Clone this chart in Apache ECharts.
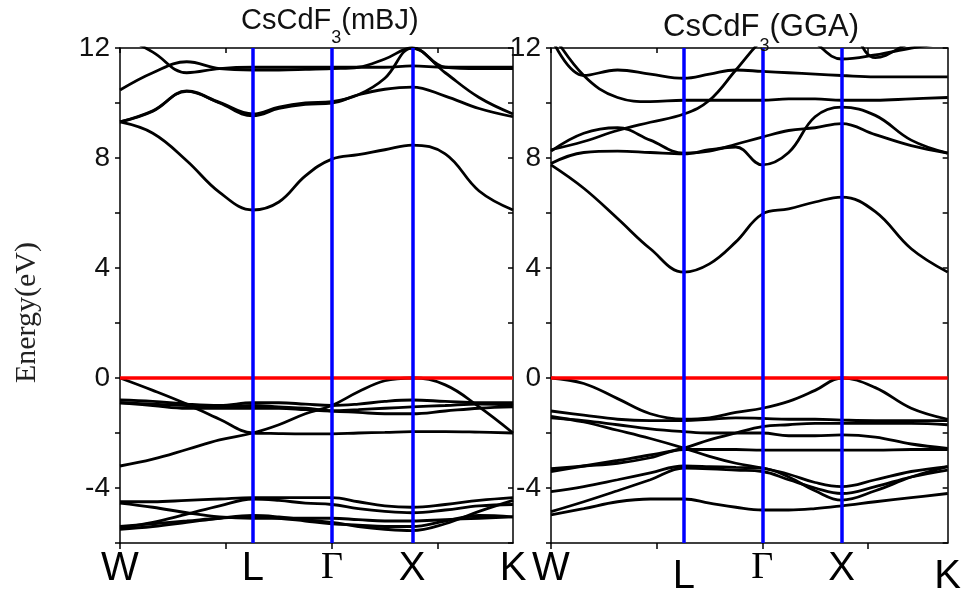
<!DOCTYPE html>
<html lang="en">
<head>
  <meta charset="UTF-8">
  <title>CsCdF3 band structure (mBJ / GGA)</title>
  <style>
    html, body { margin: 0; padding: 0; background: #fff; }
    #main { width: 964px; height: 601px; }
  </style>
  <script src="https://cdn.jsdelivr.net/npm/echarts@6/dist/echarts.min.js"></script>
</head>
<body>
  <div id="main"></div>
  <script>
    // high-symmetry points along the path
    const kLabels = ['W', 'L', 'Γ', 'X', 'K'];
    const kLeftHigh = [0, 1.254, 2.0, 2.757, 3.71];
    const kRightHigh = [0, 1.258, 2.0, 2.752, 3.755];

    // k sample points where energies were read
    const kLeft = [0, 0.31, 0.63, 0.94, 1.254, 1.5, 1.75, 2.0, 2.25, 2.5, 2.757, 3.07, 3.39, 3.71];
    const kRight = [0, 0.31, 0.63, 0.94, 1.258, 1.5, 1.75, 2.0, 2.25, 2.5, 2.752, 3.07, 3.41, 3.755];

    // mBJ bands (eV)
    const mbjConduction = [
      [9.31, 8.9, 7.9, 6.75, 6.11, 6.4, 7.35, 7.96, 8.12, 8.3, 8.47, 8.15, 6.8, 6.11],
      [9.31, 9.7, 10.44, 10.0, 9.53, 9.8, 9.95, 10.0, 10.3, 10.5, 10.58, 10.25, 9.8, 9.5],
      [9.31, 9.72, 10.42, 10.02, 9.6, 9.85, 10.0, 10.05, 10.3, 10.9, 12.0, 11.1, 10.2, 9.6],
      [10.47, 11.1, 11.5, 11.25, 11.2, 11.2, 11.22, 11.25, 11.3, 11.6, 12.0, 11.3, 11.25, 11.25],
      [12.5, 11.85, 11.1, 11.25, 11.3, 11.3, 11.3, 11.3, 11.3, 11.3, 11.35, 11.3, 11.3, 11.3]
    ];
    const mbjValence = [
      [0, -0.45, -0.95, -1.5, -2.0, -2.02, -2.03, -2.03, -2.0, -1.98, -1.95, -1.95, -1.97, -2.0],
      [-3.2, -2.95, -2.6, -2.25, -2.0, -1.7, -1.3, -1.0, -0.5, -0.1, 0, -0.25, -1.05, -2.0],
      [-0.8, -0.85, -0.95, -1.0, -0.9, -0.9, -0.95, -1.0, -0.95, -0.85, -0.8, -0.85, -0.9, -0.9],
      [-0.9, -1.0, -1.1, -1.1, -1.1, -1.1, -1.15, -1.2, -1.15, -1.1, -1.05, -1.0, -0.95, -1.0],
      [-0.9, -0.95, -1.0, -1.05, -1.0, -1.05, -1.1, -1.2, -1.25, -1.3, -1.3, -1.2, -1.1, -1.05]
    ];
    const mbjSemicore = [
      [-4.5, -4.5, -4.45, -4.4, -4.35, -4.35, -4.35, -4.35, -4.5, -4.65, -4.7, -4.6, -4.45, -4.35],
      [-4.55, -4.7, -4.9, -5.05, -5.1, -5.1, -5.1, -5.1, -5.15, -5.2, -5.2, -5.15, -5.1, -5.05],
      [-5.45, -5.25, -4.95, -4.65, -4.4, -4.45, -4.55, -4.6, -4.75, -4.85, -4.9, -4.8, -4.65, -4.6],
      [-5.5, -5.4, -5.25, -5.1, -5.0, -5.05, -5.15, -5.25, -5.4, -5.5, -5.55, -5.3, -4.85, -4.45],
      [-5.4, -5.3, -5.2, -5.1, -5.05, -5.1, -5.2, -5.3, -5.35, -5.4, -5.4, -5.2, -5.0, -5.05]
    ];

    // GGA bands (eV)
    const ggaConduction = [
      [7.75, 6.9, 5.8, 4.7, 3.85, 4.15, 4.95, 5.96, 6.15, 6.4, 6.58, 6.05, 4.7, 3.85],
      [8.25, 8.9, 9.1, 8.65, 8.18, 8.25, 8.5, 8.76, 9.0, 9.1, 9.25, 8.85, 8.45, 8.18],
      [7.8, 8.2, 8.25, 8.2, 8.15, 8.3, 8.4, 7.75, 8.2, 9.5, 9.85, 9.55, 8.65, 8.18],
      [12.6, 11.0, 10.2, 10.05, 10.1, 10.1, 10.1, 10.1, 10.15, 10.15, 10.1, 10.1, 10.15, 10.2],
      [12.4, 11.0, 11.2, 11.05, 10.9, 11.05, 11.2, 11.15, 11.1, 11.05, 11.0, 10.95, 10.95, 10.95],
      [8.3, 8.6, 9.0, 9.3, 9.6, 10.1, 11.2, 12.3, 13.0, 13.0, 13.0, 13.0, 13.0, 13.0],
      [13.0, 13.0, 13.0, 13.0, 13.0, 13.0, 13.0, 13.0, 13.0, 12.2, 11.6, 11.75, 12.0, 12.2],
      [13.0, 13.0, 13.0, 13.0, 13.0, 13.0, 13.0, 13.0, 13.0, 13.0, 13.0, 11.65, 12.2, 12.6]
    ];
    const ggaValence = [
      [0, -0.2, -0.75, -1.3, -1.5, -1.45, -1.25, -1.1, -0.85, -0.45, 0, -0.35, -1.1, -1.5],
      [-1.2, -1.35, -1.5, -1.55, -1.55, -1.5, -1.45, -1.47, -1.5, -1.5, -1.53, -1.55, -1.55, -1.55],
      [-1.4, -1.6, -1.9, -2.2, -2.55, -2.85, -3.1, -3.28, -3.5, -3.8, -3.95, -3.7, -3.4, -3.22],
      [-3.4, -3.2, -3.0, -2.8, -2.55, -2.25, -2.0, -1.77, -1.7, -1.65, -1.65, -1.65, -1.65, -1.7],
      [-1.45, -1.55, -1.7, -1.85, -1.95, -2.0, -2.0, -2.0, -2.1, -2.1, -2.07, -2.15, -2.4, -2.56],
      [-3.3, -3.2, -3.1, -2.9, -2.6, -2.6, -2.6, -2.62, -2.62, -2.62, -2.62, -2.62, -2.6, -2.6]
    ];
    const ggaSemicore = [
      [-4.13, -3.95, -3.7, -3.45, -3.2, -3.22, -3.25, -3.28, -3.6, -4.1, -4.44, -4.1, -3.6, -3.22],
      [-4.86, -4.5, -4.1, -3.7, -3.28, -3.3, -3.35, -3.4, -3.7, -4.0, -4.2, -3.95, -3.6, -3.35],
      [-4.98, -4.75, -4.5, -4.4, -4.4, -4.55, -4.7, -4.8, -4.8, -4.75, -4.65, -4.5, -4.35, -4.2]
    ];

    const chart = echarts.init(document.getElementById('main'));

    const black = '#000';
    const labelRich = {
      n: { fontSize: 40, fontFamily: 'Liberation Sans', color: black },
      d: { fontSize: 40, fontFamily: 'Liberation Sans', color: black, padding: [8, 0, 0, 0] },
      g: { fontSize: 38, fontFamily: 'Liberation Serif', color: black }
    };

    function kFormatter(high, styles) {
      return function (v) {
        let best = 0;
        for (let i = 1; i < high.length; i++) {
          if (Math.abs(high[i] - v) < Math.abs(high[best] - v)) best = i;
        }
        return '{' + styles[best] + '|' + kLabels[best] + '}';
      };
    }

    function xAxes(grid, high, styles) {
      const max = high[high.length - 1];
      return [
        {
          gridIndex: grid, type: 'value', min: 0, max: max, interval: 1,
          axisLine: { show: true, onZero: false, lineStyle: { color: black, width: 1.5 } },
          axisTick: { show: true, length: 6, customValues: [0, 1, 2, 3], lineStyle: { color: black, width: 1.5 } },
          axisLabel: { customValues: high, margin: 6, formatter: kFormatter(high, styles), rich: labelRich },
          splitLine: { show: false }
        },
        {
          gridIndex: grid, type: 'value', position: 'top', min: 0, max: max, interval: 1,
          axisLine: { show: true, onZero: false, lineStyle: { color: black, width: 1.5 } },
          axisTick: { show: true, inside: true, length: 5, customValues: [0, 1, 2, 3], lineStyle: { color: black, width: 1.5 } },
          axisLabel: { show: false },
          splitLine: { show: false }
        }
      ];
    }

    function yAxes(grid, withName) {
      const left = {
        gridIndex: grid, type: 'value', position: 'left', min: -6, max: 12, interval: 2,
        axisLine: { show: true, onZero: false, lineStyle: { color: black, width: 1.5 } },
        axisTick: { show: true, length: 5, lineStyle: { color: black, width: 1.5 } },
        axisLabel: {
          margin: 10, fontSize: 28, fontFamily: 'Liberation Sans', color: '#111',
          formatter: v => (v % 4 === 0 ? String(v) : '')
        },
        splitLine: { show: false }
      };
      if (withName) {
        left.name = 'Energy(eV)';
        left.nameLocation = 'middle';
        left.nameRotate = 90;
        left.nameGap = 78;
        left.nameTextStyle = { fontFamily: 'Liberation Serif', fontSize: 30, color: '#222', padding: [0, 34, 0, 0] };
      }
      const right = {
        gridIndex: grid, type: 'value', position: 'right', min: -6, max: 12, interval: 2,
        axisLine: { show: true, onZero: false, lineStyle: { color: black, width: 1.5 } },
        axisTick: { show: true, inside: true, length: 5, lineStyle: { color: black, width: 1.5 } },
        axisLabel: { show: false },
        splitLine: { show: false }
      };
      return [left, right];
    }

    function bandSeries(k, bands, xi, yi) {
      return bands.map(b => ({
        type: 'line', xAxisIndex: xi, yAxisIndex: yi,
        data: k.map((x, i) => [x, b[i]]),
        smooth: 0.4, symbol: 'none', silent: true, z: 2,
        lineStyle: { color: black, width: 2.8 }
      }));
    }

    function markerSeries(high, xi, yi) {
      return {
        type: 'line', xAxisIndex: xi, yAxisIndex: yi, data: [], z: 5, silent: true,
        markLine: {
          symbol: 'none', silent: true, animation: false,
          label: { show: false },
          data: [
            { yAxis: 0, lineStyle: { color: '#ff0000', width: 3.5, type: 'solid' } },
            { xAxis: high[1], lineStyle: { color: '#0000ff', width: 3.5, type: 'solid' } },
            { xAxis: high[2], lineStyle: { color: '#0000ff', width: 3.5, type: 'solid' } },
            { xAxis: high[3], lineStyle: { color: '#0000ff', width: 3.5, type: 'solid' } }
          ]
        }
      };
    }

    function titleText(method) {
      return '{a|CsCdF}{s|3}{a|(' + method + ')}';
    }
    function titleRich(size) {
      return {
        a: { fontSize: size, fontWeight: 'normal', fontFamily: 'Liberation Sans', color: '#111', lineHeight: size + 4, verticalAlign: 'top' },
        s: { fontSize: 18, fontWeight: 'normal', fontFamily: 'Liberation Sans', color: '#111', lineHeight: 18, padding: [size - 6, 0, 0, 0], verticalAlign: 'top' }
      };
    }

    const option = {
      backgroundColor: '#fff',
      animation: false,
      title: [
        { text: titleText('mBJ'), left: 236, top: 1, textStyle: { fontWeight: 'normal', rich: titleRich(29) } },
        { text: titleText('GGA'), left: 658, top: 7, textStyle: { fontWeight: 'normal', rich: titleRich(31) } }
      ],
      grid: [
        { left: 120, top: 48, width: 393, height: 495 },
        { left: 551, top: 48, width: 397, height: 495 }
      ],
      xAxis: [
        ...xAxes(0, kLeftHigh, ['n', 'n', 'g', 'n', 'n']),
        ...xAxes(1, kRightHigh, ['n', 'd', 'g', 'n', 'd'])
      ],
      yAxis: [...yAxes(0, true), ...yAxes(1, false)],
      series: [
        ...bandSeries(kLeft, mbjConduction, 0, 0),
        ...bandSeries(kLeft, mbjValence, 0, 0),
        ...bandSeries(kLeft, mbjSemicore, 0, 0),
        markerSeries(kLeftHigh, 0, 0),
        ...bandSeries(kRight, ggaConduction, 2, 2),
        ...bandSeries(kRight, ggaValence, 2, 2),
        ...bandSeries(kRight, ggaSemicore, 2, 2),
        markerSeries(kRightHigh, 2, 2)
      ]
    };

    chart.setOption(option);
  </script>
</body>
</html>
